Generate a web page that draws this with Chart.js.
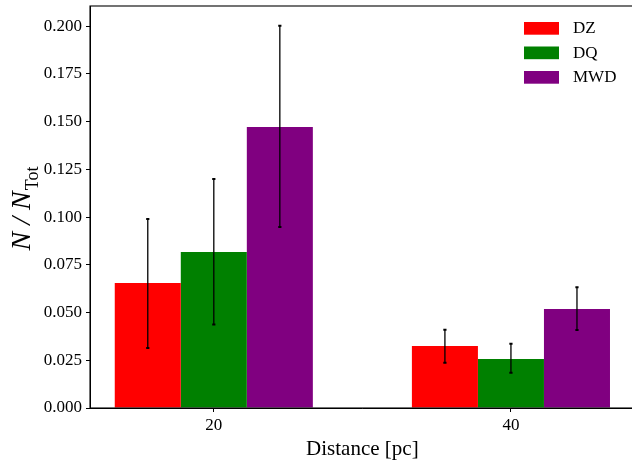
<!DOCTYPE html>
<html>
<head>
<meta charset="utf-8">
<script src="https://cdn.jsdelivr.net/npm/chart.js@4/dist/chart.umd.min.js"></script>
<style>
html,body{margin:0;padding:0;background:#fff;overflow:hidden;width:632px;height:462px;}
canvas{display:block;}
</style>
</head>
<body>
<canvas id="c" width="640" height="462"></canvas>
<script>
// ---- data ----
const distances = [20, 40];
const seriesNames = ['DZ', 'DQ', 'MWD'];
const seriesColors = ['#ff0000', '#008000', '#800080'];
const dzValues  = [0.0655, 0.0325];
const dqValues  = [0.0817, 0.0257];
const mwdValues = [0.1472, 0.0519];
const dzErrLow  = [0.0314, 0.0237];
const dzErrHigh = [0.0990, 0.0410];
const dqErrLow  = [0.0437, 0.0185];
const dqErrHigh = [0.1200, 0.0337];
const mwdErrLow  = [0.0948, 0.0409];
const mwdErrHigh = [0.2003, 0.0632];
const yTickValues = [0, 0.025, 0.05, 0.075, 0.1, 0.125, 0.15, 0.175, 0.2];
const xTitle = 'Distance [pc]';

const seriesValues = [dzValues, dqValues, mwdValues];
const errLows = [dzErrLow, dqErrLow, mwdErrLow];
const errHighs = [dzErrHigh, dqErrHigh, mwdErrHigh];

const SERIF = '"Liberation Serif", "DejaVu Serif", serif';

const errorBarPlugin = {
  id: 'errorBars',
  afterDatasetsDraw(chart) {
    const ctx = chart.ctx;
    const ys = chart.scales.y;
    ctx.save();
    ctx.strokeStyle = '#000';
    chart.data.datasets.forEach((ds, i) => {
      const meta = chart.getDatasetMeta(i);
      meta.data.forEach((el, j) => {
        const x = el.x;
        const yl = ys.getPixelForValue(errLows[i][j]);
        const yh = ys.getPixelForValue(errHighs[i][j]);
        ctx.lineWidth = 1.3;
        ctx.beginPath();
        ctx.moveTo(x, yl); ctx.lineTo(x, yh);
        ctx.stroke();
        ctx.lineWidth = 2;
        ctx.beginPath();
        ctx.moveTo(x - 1.6, yl); ctx.lineTo(x + 1.6, yl);
        ctx.moveTo(x - 1.6, yh); ctx.lineTo(x + 1.6, yh);
        ctx.stroke();
      });
    });
    ctx.restore();
  }
};

const framePlugin = {
  id: 'frame',
  afterDraw(chart) {
    const ctx = chart.ctx;
    const a = chart.chartArea;
    ctx.save();
    ctx.strokeStyle = '#000';
    ctx.lineWidth = 1.1;
    ctx.strokeRect(a.left, a.top, a.right - a.left, a.bottom - a.top);
    // y-axis title N/N_Tot
    ctx.translate(30, 208.5);
    ctx.rotate(-Math.PI / 2);
    ctx.fillStyle = '#000';
    ctx.textBaseline = 'alphabetic';
    ctx.textAlign = 'left';
    const mainFont = 'italic 28px ' + SERIF;
    const subFont = '18px ' + SERIF;
    ctx.font = mainFont;
    const wN = ctx.measureText('N').width;
    const wS = ctx.measureText('/').width;
    const gap = 7;
    ctx.font = subFont;
    const wT = ctx.measureText('Tot').width;
    const total = wN * 2 + wS + gap * 2 + 1 + wT;
    let x0 = -total / 2;
    ctx.font = mainFont;
    ctx.fillText('N', x0, 0); x0 += wN + gap;
    ctx.fillText('/', x0, 0); x0 += wS + gap;
    ctx.fillText('N', x0, 0); x0 += wN + 1;
    ctx.font = subFont;
    ctx.fillText('Tot', x0, 8);
    ctx.restore();

    // legend
    ctx.save();
    ctx.font = '17px ' + SERIF;
    ctx.textBaseline = 'middle';
    ctx.textAlign = 'left';
    chart.data.datasets.forEach((ds, i) => {
      const top = 22 + i * 24.5;
      ctx.fillStyle = ds.backgroundColor;
      ctx.fillRect(524, top, 35, 12.7);
      ctx.fillStyle = '#000';
      ctx.fillText(ds.label, 573, top + 6.8);
    });
    ctx.restore();
  }
};

const datasets = seriesNames.map((name, i) => ({
  label: name,
  data: distances.map((d, j) => ({ x: d, y: seriesValues[i][j] })),
  backgroundColor: seriesColors[i],
  borderWidth: 0,
  categoryPercentage: 2 / 3,
  barPercentage: 1.0
}));

new Chart(document.getElementById('c'), {
  type: 'bar',
  data: { datasets },
  options: {
    responsive: false,
    animation: false,
    layout: { padding: { top: 6, right: 5.25, left: 0, bottom: 0 } },
    plugins: { legend: { display: false }, tooltip: { enabled: false } },
    scales: {
      x: {
        type: 'linear',
        offset: false,
        min: 11.6667,
        max: 48.3333,
        afterBuildTicks(scale) { scale.ticks = distances.map(v => ({ value: v })); },
        afterFit(scale) { scale.height = 54; scale.paddingLeft = 0; scale.paddingRight = 0; },
        ticks: {
          color: '#000',
          font: { family: SERIF, size: 17 },
          padding: 3,
          maxRotation: 0,
          callback: (v) => String(v)
        },
        grid: { offset: false, drawOnChartArea: false, drawTicks: true, tickLength: 4, color: '#000', tickWidth: 1 },
        border: { display: true, color: '#000', width: 1 },
        title: {
          display: true,
          text: xTitle,
          color: '#000',
          font: { family: SERIF, size: 21 },
          padding: { top: 2, bottom: 0 }
        }
      },
      y: {
        min: 0,
        max: 0.2106,
        afterBuildTicks(scale) { scale.ticks = yTickValues.map(v => ({ value: v })); },
        afterFit(scale) { scale.width = 90; scale.paddingTop = 0; scale.paddingBottom = 0; },
        ticks: {
          color: '#000',
          font: { family: SERIF, size: 17 },
          padding: 4,
          callback: (v) => Number(v).toFixed(3)
        },
        grid: { drawOnChartArea: false, drawTicks: true, tickLength: 4, color: '#000', tickWidth: 1 },
        border: { display: true, color: '#000', width: 1 }
      }
    }
  },
  plugins: [errorBarPlugin, framePlugin]
});
</script>
</body>
</html>
